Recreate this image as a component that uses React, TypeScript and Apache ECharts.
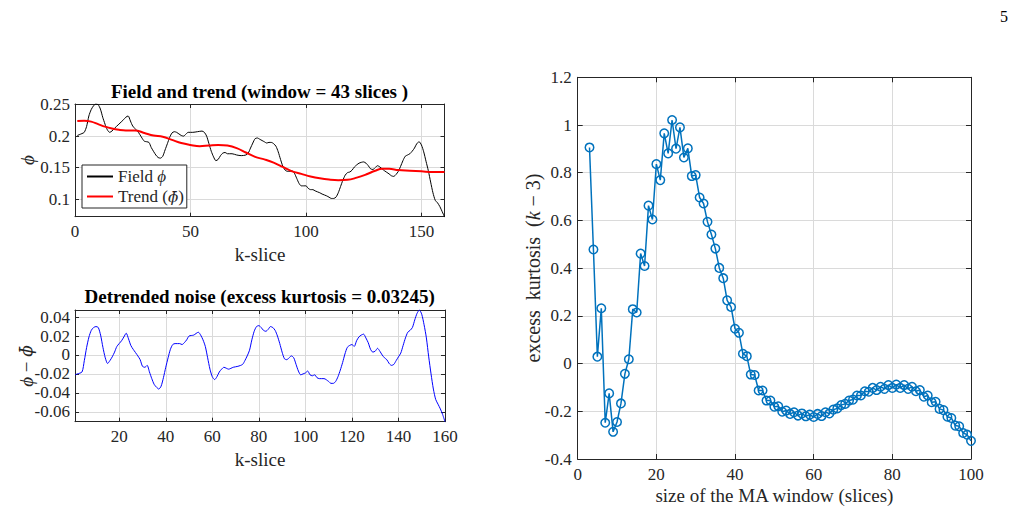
import React, { useEffect, useRef } from "react";
import * as echarts from "echarts";

// ---- Field φ along the k-slices (black) ----
const fieldK = [1, 3, 4, 5, 6, 7, 8, 9, 10, 11, 12, 13, 14, 15, 16, 17, 19, 21, 22, 23, 24, 25, 27, 28, 29, 30, 32, 33, 35, 36, 37, 38, 39, 40, 41, 42, 43, 44, 46, 47, 48, 49, 51, 53, 55, 56, 57, 58, 59, 60, 61, 62, 63, 64, 65, 66, 68, 70, 72, 74, 75, 76, 77, 78, 79, 80, 81, 82, 83, 84, 85, 86, 87, 88, 89, 90, 91, 92, 93, 94, 95, 96, 97, 98, 100, 101, 102, 103, 104, 106, 107, 109, 110, 111, 112, 113, 114, 115, 116, 117, 118, 119, 120, 121, 123, 125, 126, 127, 128, 129, 130, 131, 132, 133, 134, 136, 137, 138, 139, 140, 141, 142, 143, 144, 145, 146, 147, 148, 149, 150, 151, 152, 153, 154, 155, 156, 157, 158, 159, 160];
const fieldPhi = [0.201, 0.204, 0.206, 0.215, 0.232, 0.242, 0.248, 0.251, 0.25, 0.243, 0.23, 0.219, 0.21, 0.206, 0.208, 0.212, 0.219, 0.226, 0.23, 0.232, 0.224, 0.216, 0.208, 0.203, 0.197, 0.192, 0.19, 0.182, 0.17, 0.166, 0.165, 0.168, 0.178, 0.188, 0.198, 0.205, 0.207, 0.206, 0.201, 0.2, 0.203, 0.206, 0.206, 0.207, 0.208, 0.206, 0.2, 0.188, 0.176, 0.167, 0.161, 0.163, 0.169, 0.173, 0.174, 0.172, 0.172, 0.17, 0.169, 0.17, 0.173, 0.181, 0.189, 0.196, 0.197, 0.195, 0.193, 0.191, 0.189, 0.19, 0.19, 0.188, 0.184, 0.175, 0.163, 0.152, 0.146, 0.144, 0.144, 0.145, 0.141, 0.133, 0.125, 0.121, 0.121, 0.117, 0.115, 0.115, 0.113, 0.11, 0.108, 0.105, 0.103, 0.101, 0.101, 0.103, 0.11, 0.12, 0.13, 0.138, 0.142, 0.143, 0.146, 0.151, 0.157, 0.159, 0.157, 0.153, 0.148, 0.147, 0.15, 0.153, 0.151, 0.148, 0.145, 0.14, 0.137, 0.136, 0.139, 0.144, 0.152, 0.161, 0.168, 0.17, 0.172, 0.176, 0.181, 0.188, 0.191, 0.186, 0.175, 0.16, 0.145, 0.127, 0.11, 0.098, 0.094, 0.088, 0.08, 0.072];

// ---- Moving-average trend (red) ----
const trendK = [1, 4, 7, 10, 13, 16, 19, 22, 26, 30, 34, 38, 42, 46, 50, 54, 58, 62, 66, 70, 74, 78, 82, 86, 90, 94, 98, 102, 106, 110, 114, 118, 122, 126, 130, 133, 136, 140, 145, 150, 155, 160];
const trendPhi = [0.224, 0.2245, 0.223, 0.219, 0.215, 0.212, 0.21, 0.209, 0.209, 0.205, 0.201, 0.199, 0.194, 0.189, 0.186, 0.184, 0.185, 0.186, 0.185, 0.181, 0.174, 0.167, 0.163, 0.158, 0.151, 0.144, 0.14, 0.136, 0.133, 0.131, 0.13, 0.1305, 0.134, 0.139, 0.145, 0.148, 0.148, 0.146, 0.145, 0.144, 0.143, 0.143];

// ---- Detrended noise φ − φ̄ (blue) ----
const noiseK = [1, 2, 4, 5, 6, 7, 8, 9, 10, 11, 12, 13, 14, 15, 16, 17, 18, 19, 21, 22, 23, 24, 25, 26, 28, 29, 30, 31, 32, 33, 34, 35, 36, 37, 38, 39, 40, 41, 42, 43, 44, 46, 47, 48, 49, 50, 52, 54, 55, 56, 57, 58, 59, 60, 61, 62, 63, 64, 65, 66, 67, 69, 71, 73, 74, 75, 76, 77, 78, 79, 80, 81, 82, 83, 84, 85, 86, 87, 88, 89, 90, 91, 92, 93, 94, 95, 96, 97, 98, 99, 100, 101, 102, 103, 104, 105, 106, 108, 110, 111, 112, 113, 114, 115, 116, 117, 118, 119, 120, 121, 122, 123, 124, 125, 126, 127, 128, 129, 130, 131, 132, 133, 134, 135, 136, 137, 138, 139, 140, 141, 142, 143, 144, 145, 146, 147, 148, 149, 150, 151, 152, 153, 154, 155, 156, 157, 158, 159, 160];
const noiseVal = [-0.021, -0.02, -0.018, -0.006, 0.008, 0.019, 0.026, 0.029, 0.03, 0.029, 0.021, 0.008, -0.003, -0.009, -0.006, -0.002, 0.003, 0.009, 0.015, 0.019, 0.023, 0.017, 0.01, 0.006, -0.001, -0.005, -0.012, -0.013, -0.011, -0.018, -0.025, -0.031, -0.034, -0.036, -0.033, -0.024, -0.013, -0.003, 0.006, 0.011, 0.012, 0.012, 0.011, 0.013, 0.016, 0.02, 0.021, 0.024, 0.021, 0.016, 0.009, -0.003, -0.015, -0.023, -0.026, -0.023, -0.018, -0.015, -0.013, -0.014, -0.015, -0.013, -0.012, -0.01, -0.006, -0.001, 0.005, 0.016, 0.025, 0.03, 0.031, 0.029, 0.026, 0.025, 0.027, 0.03, 0.029, 0.026, 0.02, 0.012, 0.003, -0.004, -0.005, -0.003, -0.001, -0.003, -0.01, -0.017, -0.021, -0.02, -0.019, -0.017, -0.021, -0.022, -0.021, -0.024, -0.025, -0.025, -0.028, -0.03, -0.03, -0.028, -0.023, -0.016, -0.008, 0.001, 0.008, 0.01, 0.011, 0.009, 0.015, 0.019, 0.021, 0.022, 0.018, 0.013, 0.006, 0.003, 0.004, 0.007, 0.004, 0, -0.003, -0.005, -0.009, -0.011, -0.01, -0.006, -0.002, 0.002, 0.01, 0.018, 0.024, 0.026, 0.029, 0.037, 0.044, 0.0475, 0.043, 0.032, 0.018, -0.002, -0.02, -0.036, -0.047, -0.052, -0.057, -0.063, -0.0705];

// ---- Excess kurtosis versus MA window size ----
const windowSize = [3, 4, 5, 6, 7, 8, 9, 10, 11, 12, 13, 14, 15, 16, 17, 18, 19, 20, 21, 22, 23, 24, 25, 26, 27, 28, 29, 30, 31, 32, 33, 34, 35, 36, 37, 38, 39, 40, 41, 42, 43, 44, 45, 46, 47, 48, 49, 50, 51, 52, 53, 54, 55, 56, 57, 58, 59, 60, 61, 62, 63, 64, 65, 66, 67, 68, 69, 70, 71, 72, 73, 74, 75, 76, 77, 78, 79, 80, 81, 82, 83, 84, 85, 86, 87, 88, 89, 90, 91, 92, 93, 94, 95, 96, 97, 98, 99, 100];
const excessKurtosis = [0.906, 0.478, 0.029, 0.232, -0.248, -0.125, -0.286, -0.245, -0.167, -0.043, 0.018, 0.228, 0.214, 0.461, 0.409, 0.662, 0.604, 0.836, 0.769, 0.965, 0.881, 1.021, 0.901, 0.99, 0.864, 0.902, 0.786, 0.79, 0.696, 0.671, 0.594, 0.541, 0.482, 0.401, 0.358, 0.265, 0.237, 0.146, 0.129, 0.041, 0.031, -0.046, -0.048, -0.113, -0.113, -0.155, -0.155, -0.181, -0.179, -0.202, -0.197, -0.211, -0.204, -0.218, -0.209, -0.221, -0.214, -0.224, -0.211, -0.22, -0.204, -0.209, -0.193, -0.188, -0.174, -0.169, -0.155, -0.151, -0.134, -0.134, -0.116, -0.118, -0.102, -0.111, -0.097, -0.106, -0.09, -0.102, -0.088, -0.102, -0.09, -0.106, -0.097, -0.116, -0.111, -0.139, -0.134, -0.162, -0.16, -0.19, -0.195, -0.223, -0.228, -0.26, -0.263, -0.291, -0.298, -0.324];

const SERIF = '"Liberation Serif", "Times New Roman", "DejaVu Serif", serif';
const MATH = '"DejaVu Serif", "Liberation Serif", serif';
const AXIS_DARK = "#262626";
const GRID_LIGHT = "#dadada";

const zip = (xs: number[], ys: number[]) => xs.map((x, i) => [x, ys[i]]);

const topMin = Math.min(...fieldPhi, ...trendPhi);
const topMax = Math.max(...fieldPhi, ...trendPhi);
const noiseMin = Math.min(...noiseVal);
const noiseMax = Math.max(...noiseVal);

const tickLabel = (extra: any = {}) => ({
  color: AXIS_DARK,
  fontFamily: SERIF,
  fontSize: 17,
  margin: 6,
  ...extra,
});

const tick = (length: number) => ({ show: true, inside: true, length, lineStyle: { color: AXIS_DARK } });

function mainAxis(gridIndex: number, extra: any) {
  return {
    type: "value",
    gridIndex,
    axisLine: { show: true, onZero: false, lineStyle: { color: AXIS_DARK, width: 1 } },
    axisTick: tick(4),
    axisLabel: tickLabel(),
    splitLine: { show: true, lineStyle: { color: GRID_LIGHT, width: 1 } },
    ...extra,
  };
}

function mirrorAxis(gridIndex: number, position: string, extra: any) {
  return {
    type: "value",
    gridIndex,
    position,
    axisLine: { show: true, onZero: false, lineStyle: { color: AXIS_DARK, width: 1 } },
    axisTick: tick(4),
    axisLabel: { show: false },
    splitLine: { show: false },
    ...extra,
  };
}

function rotatedLabel(x: number, y: number, text: string, rich?: any) {
  return {
    type: "text",
    x,
    y,
    rotation: Math.PI / 2,
    style: {
      text,
      fill: AXIS_DARK,
      font: `19px ${SERIF}`,
      align: "center",
      verticalAlign: "middle",
      textAlign: "center",
      textVerticalAlign: "middle",
      rich,
    },
  };
}

function plainText(x: number, y: number, text: string, font: string, fill = AXIS_DARK) {
  return {
    type: "text",
    x,
    y,
    style: {
      text,
      fill,
      font,
      align: "center",
      verticalAlign: "middle",
      textAlign: "center",
      textVerticalAlign: "middle",
    },
  };
}

export default function App() {
  const ref = useRef<HTMLDivElement>(null);

  useEffect(() => {
    if (!ref.current) return;
    const chart = echarts.init(ref.current, undefined, { renderer: "svg" });

    const italic = { fontStyle: "italic", fontFamily: SERIF, fontSize: 19, color: AXIS_DARK };
    const mathBar = { fontStyle: "italic", fontFamily: MATH, fontSize: 17, color: AXIS_DARK };
    const normal = { fontFamily: SERIF, fontSize: 19, color: AXIS_DARK };
    const kurtNormal = { fontFamily: SERIF, fontSize: 20, color: AXIS_DARK };
    const kurtItalic = { fontStyle: "italic", fontFamily: SERIF, fontSize: 20, color: AXIS_DARK };

    chart.setOption({
      animation: false,
      backgroundColor: "#ffffff",
      grid: [
        { left: 75, top: 104, width: 369.5, height: 112.7 },
        { left: 75, top: 310, width: 370, height: 111.7 },
        { left: 577.7, top: 77.3, width: 393.3, height: 381.7 },
      ],
      xAxis: [
        mainAxis(0, { min: 0, max: 160, interval: 50, position: "bottom", axisLabel: tickLabel({ showMaxLabel: false }) }),
        mirrorAxis(0, "top", { min: 0, max: 160, interval: 50 }),
        mainAxis(1, { min: 1, max: 160, splitNumber: 8, position: "bottom", axisLabel: tickLabel({ showMinLabel: false }) }),
        mirrorAxis(1, "top", { min: 1, max: 160, splitNumber: 8 }),
        mainAxis(2, { min: 0, max: 100, interval: 20, position: "bottom", axisTick: tick(5), axisLabel: tickLabel({ margin: 7 }) }),
        mirrorAxis(2, "top", { min: 0, max: 100, interval: 20, axisTick: tick(5) }),
      ],
      yAxis: [
        mainAxis(0, { min: topMin, max: topMax, splitNumber: 4, position: "left", axisLabel: tickLabel({ margin: 5, showMinLabel: false, showMaxLabel: false }) }),
        mirrorAxis(0, "right", { min: topMin, max: topMax, splitNumber: 4 }),
        mainAxis(1, { min: noiseMin, max: noiseMax, splitNumber: 5, position: "left", axisLabel: tickLabel({ margin: 5, showMinLabel: false, showMaxLabel: false }) }),
        mirrorAxis(1, "right", { min: noiseMin, max: noiseMax, splitNumber: 5 }),
        mainAxis(2, { min: -0.4, max: 1.2, interval: 0.2, position: "left", axisTick: tick(5), axisLabel: tickLabel() }),
        mirrorAxis(2, "right", { min: -0.4, max: 1.2, interval: 0.2, axisTick: tick(5) }),
      ],
      legend: {
        data: ["Field", "Trend"],
        orient: "vertical",
        left: 82,
        top: 165,
        itemWidth: 26,
        itemHeight: 12,
        itemGap: 3,
        padding: [3, 3, 3, 4],
        borderColor: AXIS_DARK,
        borderWidth: 1,
        backgroundColor: "#ffffff",
        itemStyle: { opacity: 0 },
        formatter: (name: string) => (name === "Field" ? "Field {i|ϕ}" : "Trend ({b|ϕ̄})"),
        textStyle: {
          fontFamily: SERIF,
          fontSize: 17,
          color: AXIS_DARK,
          rich: {
            i: { fontStyle: "italic", fontFamily: SERIF, fontSize: 17, color: AXIS_DARK },
            b: { fontStyle: "italic", fontFamily: MATH, fontSize: 15, color: AXIS_DARK },
          },
        },
      },
      series: [
        {
          name: "Field",
          type: "line",
          xAxisIndex: 0,
          yAxisIndex: 0,
          data: zip(fieldK, fieldPhi),
          symbol: "none",
          smooth: 0.25,
          lineStyle: { color: "#000000", width: 1 },
          itemStyle: { color: "#000000" },
        },
        {
          name: "Trend",
          type: "line",
          xAxisIndex: 0,
          yAxisIndex: 0,
          data: zip(trendK, trendPhi),
          symbol: "none",
          smooth: 0.4,
          lineStyle: { color: "#ff0000", width: 2 },
          itemStyle: { color: "#ff0000" },
        },
        {
          name: "Noise",
          type: "line",
          xAxisIndex: 2,
          yAxisIndex: 2,
          data: zip(noiseK, noiseVal),
          symbol: "none",
          smooth: 0.25,
          lineStyle: { color: "#0000ff", width: 1 },
          itemStyle: { color: "#0000ff" },
        },
        {
          name: "Excess kurtosis",
          type: "line",
          xAxisIndex: 4,
          yAxisIndex: 4,
          data: zip(windowSize, excessKurtosis),
          symbol: "circle",
          symbolSize: 8.5,
          lineStyle: { color: "#0072BD", width: 1.5 },
          itemStyle: { color: "transparent", borderColor: "#0072BD", borderWidth: 1.5 },
        },
      ],
      graphic: [
        plainText(1004, 16, "5", `16px ${SERIF}`, "#000000"),
        plainText(259.5, 91, "Field and trend (window = 43 slices )", `bold 19px ${SERIF}`, "#000000"),
        plainText(259.7, 296, "Detrended noise (excess kurtosis = 0.03245)", `bold 19px ${SERIF}`, "#000000"),
        plainText(260, 254, "k-slice", `19px ${SERIF}`),
        plainText(260, 459, "k-slice", `19px ${SERIF}`),
        plainText(774.4, 495, "size of the MA window (slices)", `19px ${SERIF}`),
        rotatedLabel(27, 160, "{i|ϕ}", { i: italic }),
        rotatedLabel(26, 366, "{i|ϕ}{n| − }{b|ϕ̄}", { i: italic, n: normal, b: mathBar }),
        rotatedLabel(533, 268, "{n|excess\u00a0 kurtosis\u00a0 (}{i|k}{n| − 3)}", { i: kurtItalic, n: kurtNormal }),
      ],
    });

    return () => chart.dispose();
  }, []);

  return (
    <div
      ref={ref}
      style={{ position: "absolute", left: 0, top: 0, width: 1016, height: 512, background: "#fff" }}
    />
  );
}
